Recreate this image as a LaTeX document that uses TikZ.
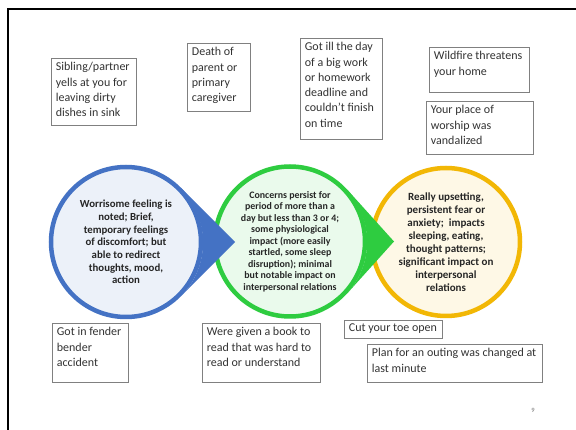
\documentclass[tikz,border=0pt]{standalone}
\usepackage{fontspec}
\setmainfont{Carlito}
\definecolor{bluering}{HTML}{4472C4}
\definecolor{greenring}{HTML}{2ECC40}
\definecolor{goldring}{HTML}{F2B705}
\definecolor{boxgray}{HTML}{808080}
\definecolor{boxtext}{HTML}{333333}
\definecolor{circtext}{HTML}{262626}
\newcommand{\evtext}[3]{\parbox[t][#2][t]{#1}{\raggedright #3}}
\begin{document}
\begin{tikzpicture}[x = 1pt, y = -1pt,
  evtbox/.style = {draw = boxgray, line width = 0.8pt, anchor = north west, inner xsep = 4.5pt, inner ysep = 4pt, text = boxtext, font = \fontsize{12}{15.3}\selectfont},
  stage/.style = {circle, draw = #1, fill = #1!10, line width = 4.5pt, minimum size = 150pt, inner sep = 0pt, align = center, text = circtext}]
\useasboundingbox[fill = white] (0,0) rectangle (576,430);
\draw[line width = 2.5pt] (8,430)--(8,9)--(576,9);

% the three stages
\node[stage = goldring, minimum size = 148pt, font = \bfseries\fontsize{11}{13}\selectfont] (upset) at (446,242) {Really upsetting,\\ persistent fear or\\ anxiety;~ impacts\\ sleeping, eating,\\ thought patterns;\\ significant impact on\\ interpersonal\\ relations};
\node[stage = greenring, font = \bfseries\fontsize{9.9}{11.5}\selectfont] (persist) at (290,241.5) {Concerns persist for\\ period of more than a\\ day but less than 3 or 4;\\ some physiological\\ impact (more easily\\ startled, some sleep\\ disruption); minimal\\ but notable impact on\\ interpersonal relations};
\node[stage = bluering, font = \bfseries\fontsize{10.8}{12.7}\selectfont] (worry) at (126,242) {Worrisome feeling is\\ noted; Brief,\\ temporary feelings\\ of discomfort; but\\ able to redirect\\ thoughts, mood,\\ action};

\coordinate (persisttip) at (394,241.5);
\coordinate (worrytip) at (235,242);
\fill[greenring] (persist.42)--(persisttip)--(persist.-42) arc[start angle = 42, end angle = -42, radius = 76.5]--cycle;
\fill[bluering] (worry.45)--(worrytip)--(worry.-45) arc[start angle = 45, end angle = -45, radius = 76.5]--cycle;

% events above
\node[evtbox] (sibling) at (51,58) {\evtext{76pt}{59pt}{Sibling/partner\\ yells at you for\\ leaving dirty\\ dishes in sink}};
\node[evtbox] (death) at (187,43) {\evtext{54pt}{60pt}{Death of\\ parent or\\ primary\\ caregiver}};
\node[evtbox] (gotill) at (300,38) {\evtext{73pt}{93pt}{Got ill the day\\ of a big work\\ or homework\\ deadline and\\ couldn’t finish\\ on time}};
\node[evtbox] (wildfire) at (429,47) {\evtext{91pt}{37pt}{Wildfire threatens\\ your home}};
\node[evtbox] (worship) at (426,101) {\evtext{98pt}{45pt}{Your place of\\ worship was\\ vandalized}};

% events below
\node[evtbox] (fender) at (52,323) {\evtext{67pt}{51pt}{Got in fender\\ bender\\ accident}};
\node[evtbox] (book) at (202,323) {\evtext{109pt}{51pt}{Were given a book to\\ read that was hard to\\ read or understand}};
\node[evtbox, inner ysep = 3pt] (toe) at (344,320) {\evtext{89pt}{12pt}{Cut your toe open}};
\node[evtbox] (outing) at (367,344) {\evtext{166pt}{30pt}{Plan for an outing was changed at\\ last minute}};

\node[text = black!55, font = \fontsize{6.5}{7}\selectfont] (pagenum) at (533,410) {9};
\end{tikzpicture}
\end{document}
